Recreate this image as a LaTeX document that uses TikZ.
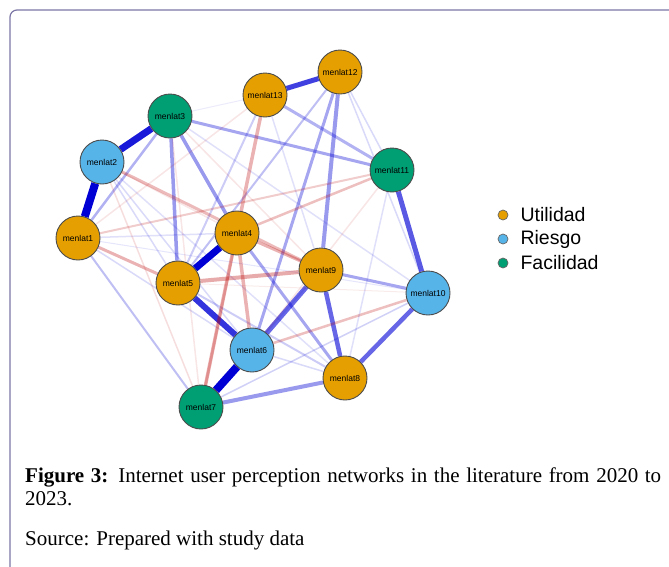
\documentclass[tikz,border=0pt]{standalone}
\usepackage{fontspec}
\setmainfont{Liberation Serif}
\newfontfamily\arialfont{Liberation Sans}
\usepackage{tikz}
\usetikzlibrary{positioning,backgrounds}
\definecolor{utilc}{HTML}{E69F00}
\definecolor{riesc}{HTML}{56B4E9}
\definecolor{facic}{HTML}{009E73}
\definecolor{posc}{HTML}{0000D5}
\definecolor{negc}{HTML}{BA0000}
\definecolor{framec}{HTML}{7B76A6}

\begin{document}
\begin{tikzpicture}[x=1pt,y=-1pt,
	var/.style={circle,draw=black!70,line width=0.9pt,minimum size=44pt,inner sep=0pt,font=\arialfont\fontsize{8.5}{9}\selectfont},
	dot/.style={circle,draw=black!60,line width=0.7pt,minimum size=10pt,inner sep=0pt},
	legtext/.style={font=\arialfont\fontsize{19.5}{21}\selectfont,anchor=west,inner sep=0pt}]
	\useasboundingbox (0,0) rectangle (669,566);
	\draw[framec,line width=1.2pt,rounded corners=7pt] (10,600) -- (10,10) -- (700,10);
	% nodes
	\node[var,fill=utilc] (n1) at (78,238) {menlat1};
	\node[var,fill=riesc] (n2) at (102,162) {menlat2};
	\node[var,fill=facic] (n3) at (170,116) {menlat3};
	\node[var,fill=utilc] (n4) at (237,233) {menlat4};
	\node[var,fill=utilc] (n5) at (178,283) {menlat5};
	\node[var,fill=riesc] (n6) at (252,350) {menlat6};
	\node[var,fill=facic] (n7) at (201,407) {menlat7};
	\node[var,fill=utilc] (n8) at (345,378) {menlat8};
	\node[var,fill=utilc] (n9) at (321,270) {menlat9};
	\node[var,fill=riesc] (n10) at (428,293) {menlat10};
	\node[var,fill=facic] (n11) at (392,170) {menlat11};
	\node[var,fill=utilc] (n12) at (340,72) {menlat12};
	\node[var,fill=utilc] (n13) at (265,95) {menlat13};
	% edges
	\begin{pgfonlayer}{background}
		\foreach \a/\b/\w/\o in {1/2/8/1, 2/3/7/.9, 4/5/7/1, 6/7/8/1, 5/6/6/.8, 12/13/5/.75,
			10/11/5/.65, 6/9/5/.6, 8/9/4.5/.6, 8/10/4.5/.6, 7/8/4/.4, 9/10/3/.35, 3/5/3.5/.4,
			3/4/3.5/.4, 4/8/3/.35, 3/11/3/.35, 13/11/3/.3, 12/9/4/.4, 12/6/3/.35, 12/5/2/.25,
			12/11/1.5/.15, 12/10/1.5/.15, 13/5/2/.2, 1/3/2.5/.3, 1/7/2/.25, 1/6/1.5/.15,
			1/4/1.5/.12, 1/10/1/.1, 2/6/1.5/.15, 2/5/1.5/.15, 2/8/1.5/.12, 5/8/2/.2,
			6/8/1.5/.15, 7/10/1.5/.18, 3/13/1/.08, 3/10/1.5/.12, 7/9/1.5/.12, 11/8/1.5/.12,
			13/9/1.5/.12}
			\draw[posc,line width=\w pt,draw opacity=\o] (n\a) -- (n\b);
		\foreach \a/\b/\w/\o in {13/7/3.5/.3, 4/6/3.5/.3, 4/7/2.5/.2, 5/9/4/.33, 4/9/3/.3,
			2/9/3/.27, 1/5/3/.3, 11/4/2.5/.25, 11/1/2/.2, 10/6/2.5/.25, 2/7/1.5/.13, 3/7/1.5/.1,
			3/9/1.5/.1, 13/1/1.5/.1, 11/6/1.5/.1, 2/4/1.5/.1, 5/10/1/.08}
			\draw[negc,line width=\w pt,draw opacity=\o] (n\a) -- (n\b);
	\end{pgfonlayer}
	% legend
	\node[dot,fill=utilc] (d1) at (503,215) {};
	\node[dot,fill=riesc] (d2) at (503,239) {};
	\node[dot,fill=facic] (d3) at (503,263) {};
	\node[legtext,right=12pt of d1] (l1) {Utilidad};
	\node[legtext,right=12pt of d2] (l2) {Riesgo};
	\node[legtext,right=12pt of d3] (l3) {Facilidad};
	% caption
	\node[anchor=north west,text width=636pt,align=justify,inner sep=0pt,font=\fontsize{21}{23}\selectfont] (cap) at (25,467.5)
		{\textbf{Figure 3:} Internet user perception networks in the literature from 2020 to 2023.};
	\node[anchor=base west,inner sep=0pt,font=\fontsize{21}{23}\selectfont] (src) at (25,545) {Source: Prepared with study data};
\end{tikzpicture}
\end{document}
